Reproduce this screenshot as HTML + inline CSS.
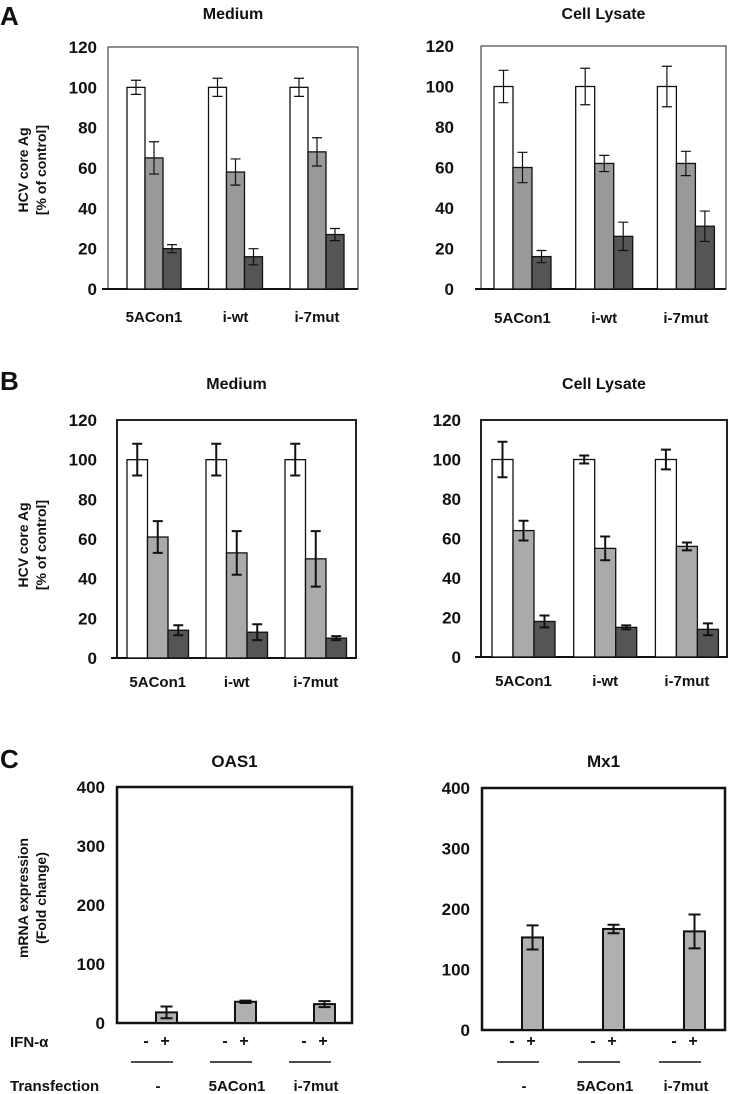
<!DOCTYPE html>
<html><head><meta charset="utf-8">
<style>
body{margin:0;background:#fff;width:729px;height:1094px;overflow:hidden}
svg{display:block;font-family:"Liberation Sans",sans-serif;font-weight:bold}
</style></head>
<body>
<svg id="fig" width="729" height="1094" viewBox="0 0 729 1094"></svg>
<script>
// ---- data ----
const categoriesAB = ["5ACon1", "i-wt", "i-7mut"];
const tickLabelsAB = [0, 20, 40, 60, 80, 100, 120];
const tickLabelsC = [0, 100, 200, 300, 400];
const aMedControl = [100, 100, 100];
const aMedControlErr = [3.5, 4.5, 4.5];
const aMedMid = [65, 58, 68];
const aMedMidErr = [8, 6.5, 7];
const aMedLow = [20, 16, 27];
const aMedLowErr = [2, 4, 3];
const aLysControl = [100, 100, 100];
const aLysControlErr = [8, 9, 10];
const aLysMid = [60, 62, 62];
const aLysMidErr = [7.5, 4, 6];
const aLysLow = [16, 26, 31];
const aLysLowErr = [3, 7, 7.5];
const bMedControl = [100, 100, 100];
const bMedControlErr = [8, 8, 8];
const bMedMid = [61, 53, 50];
const bMedMidErr = [8, 11, 14];
const bMedLow = [14, 13, 10];
const bMedLowErr = [2.5, 4, 1];
const bLysControl = [100, 100, 100];
const bLysControlErr = [9, 2, 5];
const bLysMid = [64, 55, 56];
const bLysMidErr = [5, 6, 2];
const bLysLow = [18, 15, 14];
const bLysLowErr = [3, 1, 3];
const categoriesC = ["-", "5ACon1", "i-7mut"];
const oasValues = [18, 36, 32];
const oasErr = [10, 2, 5];
const mxValues = [153, 167, 163];
const mxErr = [20, 7, 28];

const NS = "http://www.w3.org/2000/svg";
const svg = document.getElementById("fig");
function mk(tag, attrs, parent, text) {
  const e = document.createElementNS(NS, tag);
  for (const k in attrs) e.setAttribute(k, attrs[k]);
  if (text !== undefined) e.textContent = text;
  (parent || svg).appendChild(e);
  return e;
}
function txt(x, y, s, size, name, anchor) {
  const t = mk("text", {x: x, y: y, "font-size": size, "text-anchor": anchor || "middle", fill: "#111"}, svg, s);
  
  
  return t;
}

function chartAB(cfg) {
  const g = mk("g", {});
  
  
  const yS = v => cfg.yBot - (v / 120) * (cfg.yBot - cfg.yTop);
  const box = mk("rect", {x: cfg.x0, y: cfg.yTop, width: cfg.x1 - cfg.x0, height: cfg.yBot - cfg.yTop, fill: "none", stroke: "#222", "stroke-width": cfg.fw}, g);
  
  
  const xa = mk("line", {x1: cfg.x0 - 6, x2: cfg.x1, y1: cfg.yBot, y2: cfg.yBot, stroke: "#111", "stroke-width": 2}, g);
  
  
  tickLabelsAB.forEach(v => {
    const t = mk("text", {x: cfg.x0 - cfg.tg, y: yS(v) + 6, "font-size": 17, "text-anchor": "end", fill: "#111"}, g, String(v));
    
    
  });
  const series = [cfg.s1, cfg.s2, cfg.s3];
  const errs = [cfg.e1, cfg.e2, cfg.e3];
  const fills = ["#fff", cfg.midFill, "#555"];
  categoriesAB.forEach((c, i) => {
    const gx = cfg.x0 + cfg.off + i * cfg.pitch;
    series.forEach((s, j) => {
      const bx = gx + j * cfg.bw;
      const r = mk("rect", {x: bx, y: yS(s[i]), width: cfg.bw, height: yS(0) - yS(s[i]), fill: fills[j], stroke: "#111", "stroke-width": 1.3}, g);
      
      
      const cx = bx + cfg.bw / 2, hi = yS(s[i] + errs[j][i]), lo = yS(s[i] - errs[j][i]);
      const eb = mk("path", {d: `M${cx},${hi}V${lo}M${cx - 5},${hi}H${cx + 5}M${cx - 5},${lo}H${cx + 5}`, stroke: "#111", "stroke-width": cfg.ew, fill: "none"}, g);
      
      
    });
    const t = mk("text", {x: gx + cfg.bw * 1.5, y: cfg.yBot + cfg.cy, "font-size": 15, "text-anchor": "middle", fill: "#111"}, g, c);
    
    
  });
  const ti = mk("text", {x: (cfg.x0 + cfg.x1) / 2, y: cfg.titleY, "font-size": 16, "text-anchor": "middle", fill: "#111"}, g, cfg.title);
  
  
}

function chartC(cfg) {
  const g = mk("g", {});
  
  
  const yS = v => cfg.yBot - (v / 400) * (cfg.yBot - cfg.yTop);
  const box = mk("rect", {x: cfg.x0, y: cfg.yTop, width: cfg.x1 - cfg.x0, height: cfg.yBot - cfg.yTop, fill: "none", stroke: "#111", "stroke-width": 2.5}, g);
  
  
  tickLabelsC.forEach(v => {
    const t = mk("text", {x: cfg.x0 - 12, y: yS(v) + 6, "font-size": 17, "text-anchor": "end", fill: "#111"}, g, String(v));
    
    
  });
  categoriesC.forEach((c, i) => {
    const bx = cfg.x0 + cfg.off + i * cfg.pitch;
    const v = cfg.vals[i], e = cfg.errs[i];
    const r = mk("rect", {x: bx, y: yS(v), width: 21, height: yS(0) - yS(v), fill: "#b0b0b0", stroke: "#111", "stroke-width": 2}, g);
    
    
    const cx = bx + 10.5, hi = yS(v + e), lo = yS(v - e);
    const eb = mk("path", {d: `M${cx},${hi}V${lo}M${cx - 6},${hi}H${cx + 6}M${cx - 6},${lo}H${cx + 6}`, stroke: "#111", "stroke-width": 2, fill: "none"}, g);
    
    
    const m = mk("text", {x: bx - 10, y: 1046, "font-size": 16, "text-anchor": "middle", fill: "#111"}, g, "-");
    
    
    const p = mk("text", {x: bx + 9, y: 1046, "font-size": 16, "text-anchor": "middle", fill: "#111"}, g, "+");
    
    
    const ln = mk("line", {x1: bx - 25, x2: bx + 17, y1: 1062, y2: 1062, stroke: "#111", "stroke-width": 1.5}, g);
    
    
    const tl = mk("text", {x: bx + 2, y: 1091, "font-size": 15, "text-anchor": "middle", fill: "#111"}, g, c);
    
    
  });
  const ti = mk("text", {x: (cfg.x0 + cfg.x1) / 2, y: cfg.titleY, "font-size": 17, "text-anchor": "middle", fill: "#111"}, g, cfg.title);
  
  
}

chartAB({name: "panel-a-medium", title: "Medium", titleY: 19, x0: 108, x1: 358, yTop: 47, yBot: 289, off: 19, pitch: 81.5, bw: 18, midFill: "#999", ew: 1.2, fw: 1, tg: 11, cy: 33,
  s1: aMedControl, e1: aMedControlErr, s2: aMedMid, e2: aMedMidErr, s3: aMedLow, e3: aMedLowErr});
chartAB({name: "panel-a-lysate", title: "Cell Lysate", titleY: 19, x0: 481, x1: 726, yTop: 46, yBot: 289, off: 13, pitch: 81.7, bw: 19, midFill: "#999", ew: 1.2, fw: 1, tg: 27, cy: 34,
  s1: aLysControl, e1: aLysControlErr, s2: aLysMid, e2: aLysMidErr, s3: aLysLow, e3: aLysLowErr});
chartAB({name: "panel-b-medium", title: "Medium", titleY: 389, x0: 117, x1: 356, yTop: 420, yBot: 658, off: 10, pitch: 79, bw: 20.5, midFill: "#aaa", ew: 2, fw: 2, tg: 20, cy: 29,
  s1: bMedControl, e1: bMedControlErr, s2: bMedMid, e2: bMedMidErr, s3: bMedLow, e3: bMedLowErr});
chartAB({name: "panel-b-lysate", title: "Cell Lysate", titleY: 389, x0: 481, x1: 727, yTop: 420, yBot: 657, off: 11, pitch: 81.7, bw: 21, midFill: "#aaa", ew: 2, fw: 2, tg: 20, cy: 29,
  s1: bLysControl, e1: bLysControlErr, s2: bLysMid, e2: bLysMidErr, s3: bLysLow, e3: bLysLowErr});
chartC({name: "panel-c-oas1", title: "OAS1", titleY: 767, x0: 117, x1: 352, yTop: 787, yBot: 1023, off: 39, pitch: 79, vals: oasValues, errs: oasErr});
chartC({name: "panel-c-mx1", title: "Mx1", titleY: 767, x0: 482, x1: 725, yTop: 788, yBot: 1030, off: 40, pitch: 81, vals: mxValues, errs: mxErr});

txt(0, 25, "A", 26, "panel-label-a", "start");
txt(0, 390, "B", 26, "panel-label-b", "start");
txt(0, 768, "C", 26, "panel-label-c", "start");
function ylab(cx, cy, l1, l2, name) {
  const t = mk("text", {transform: `translate(${cx},${cy}) rotate(-90)`, "font-size": 14, "text-anchor": "middle", fill: "#111"}, svg);
  
  
  mk("tspan", {x: 0, y: 0}, t, l1);
  mk("tspan", {x: 0, y: 18}, t, l2);
}
ylab(28, 170, "HCV core Ag", "[% of control]", "y-axis-title-a");
ylab(28, 545, "HCV core Ag", "[% of control]", "y-axis-title-b");
ylab(28, 898, "mRNA expression", "(Fold change)", "y-axis-title-c");
txt(10, 1047, "IFN-α", 15, "ifn-row-label", "start");
txt(10, 1091, "Transfection", 15, "transfection-row-label", "start");
</script>
</body></html>
